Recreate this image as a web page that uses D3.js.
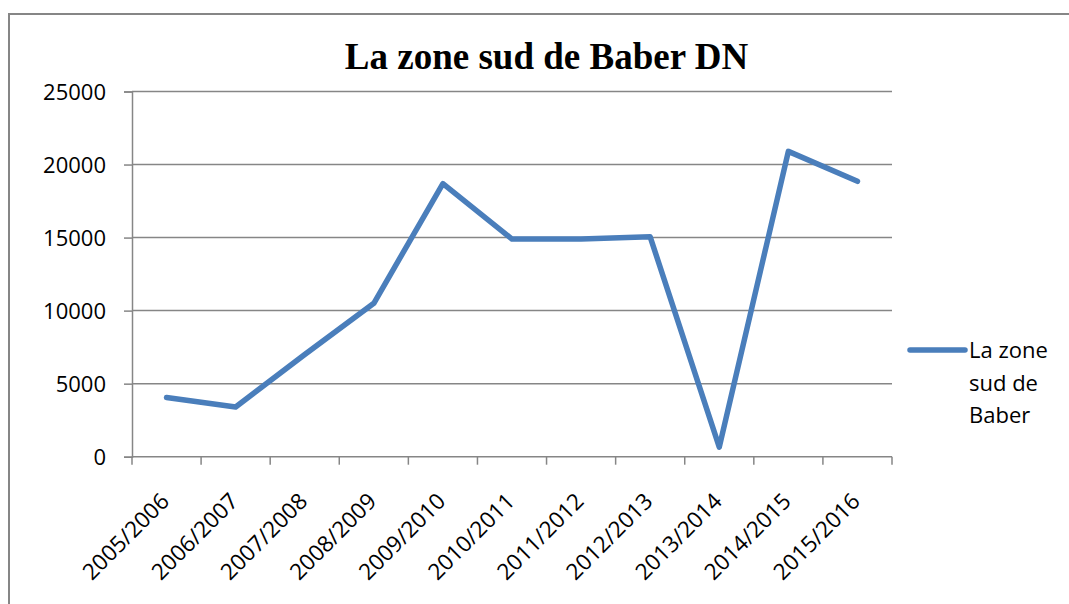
<!DOCTYPE html>
<html>
<head>
<meta charset="utf-8">
<script src="https://cdn.jsdelivr.net/npm/d3@7"></script>
<style>
  body { margin: 0; background: #fff; }
  svg { display: block; }
</style>
</head>
<body>
<svg id="chart" width="1069" height="604"></svg>
<script>
// data
var seasons = ["2005/2006", "2006/2007", "2007/2008", "2008/2009", "2009/2010", "2010/2011",
               "2011/2012", "2012/2013", "2013/2014", "2014/2015", "2015/2016"];
var values = [4050, 3400, 7000, 10500, 18700, 14900, 14900, 15050, 650, 20900, 18850];
var yTicks = [0, 5000, 10000, 15000, 20000, 25000];
var seriesName = "La zone sud de Baber";
var legendLines = ["La zone", "sud de", "Baber"];
var chartTitle = "La zone sud de Baber DN";

var GRID_COLOR = "#868686";
var LINE_COLOR = "#4a7ebb";
var LABEL_FONT = "'Open Sans', sans-serif";

var svg = d3.select("#chart");

// outer frame, runs off the right and bottom of the picture
svg.append("rect")
    .attr("x", 9).attr("y", 14)
    .attr("width", 1200).attr("height", 800)
    .attr("fill", "none")
    .attr("stroke", GRID_COLOR)
    .attr("stroke-width", 2);

var plot = { left: 132, right: 892, top: 91.5, bottom: 456.7 };

var x = d3.scaleBand()
    .domain(seasons)
    .range([plot.left, plot.right]);

var y = d3.scaleLinear()
    .domain([0, 25000])
    .range([plot.bottom, plot.top]);

// horizontal gridlines
svg.append("g")
    .selectAll("line")
    .data(yTicks.slice(1))
    .enter().append("line")
    .attr("x1", plot.left).attr("x2", plot.right)
    .attr("y1", function(d) { return y(d); })
    .attr("y2", function(d) { return y(d); })
    .attr("stroke", GRID_COLOR)
    .attr("stroke-width", 1.5);

// y axis
var yAxis = svg.append("g")
    .attr("transform", "translate(" + plot.left + ",0)")
    .call(d3.axisLeft(y).tickValues(yTicks).tickSize(8).tickPadding(18).tickFormat(d3.format("d")));
yAxis.select(".domain").attr("stroke", GRID_COLOR).attr("stroke-width", 1.5);
yAxis.selectAll(".tick line").attr("stroke", GRID_COLOR).attr("stroke-width", 1.5);
yAxis.selectAll("text")
    .attr("font-family", LABEL_FONT)
    .attr("font-size", 22)
    .attr("fill", "#000")
    .attr("dy", "0.36em");

// x axis, ticks between categories
var xAxis = svg.append("g")
    .attr("transform", "translate(0," + plot.bottom + ")");
xAxis.append("line")
    .attr("x1", plot.left).attr("x2", plot.right)
    .attr("stroke", GRID_COLOR).attr("stroke-width", 1.5);
var edges = seasons.map(function(s) { return x(s); }).concat([plot.right]);
xAxis.selectAll("line.tick")
    .data(edges)
    .enter().append("line")
    .attr("class", "tick")
    .attr("x1", function(d) { return d; })
    .attr("x2", function(d) { return d; })
    .attr("y1", 0).attr("y2", 8)
    .attr("stroke", GRID_COLOR).attr("stroke-width", 1.5);
xAxis.selectAll("text")
    .data(seasons)
    .enter().append("text")
    .attr("transform", function(d) {
        return "translate(" + (x(d) + x.bandwidth() / 2 + 4) + ",46) rotate(-45)";
    })
    .attr("text-anchor", "end")
    .attr("font-family", LABEL_FONT)
    .attr("font-size", 22.5)
    .attr("fill", "#000")
    .text(function(d) { return d; });

// the series
var line = d3.line()
    .x(function(d, i) { return x(seasons[i]) + x.bandwidth() / 2; })
    .y(function(d) { return y(d); });

svg.append("path")
    .datum(values)
    .attr("d", line)
    .attr("fill", "none")
    .attr("stroke", LINE_COLOR)
    .attr("stroke-width", 5.5)
    .attr("stroke-linejoin", "round")
    .attr("stroke-linecap", "round");

// title
svg.append("text")
    .attr("x", 546.5).attr("y", 69)
    .attr("text-anchor", "middle")
    .attr("font-family", "'Liberation Serif', 'Times New Roman', serif")
    .attr("font-weight", "bold")
    .attr("font-size", 37)
    .attr("fill", "#000")
    .text(chartTitle);

// legend
var legend = svg.append("g").attr("transform", "translate(910,350)");
legend.append("line")
    .attr("x1", 0).attr("x2", 55)
    .attr("stroke", LINE_COLOR)
    .attr("stroke-width", 5.5)
    .attr("stroke-linecap", "round");
legend.append("text")
    .attr("font-family", LABEL_FONT)
    .attr("font-size", 22)
    .attr("fill", "#000")
    .attr("aria-label", seriesName)
    .selectAll("tspan")
    .data(legendLines)
    .enter().append("tspan")
    .attr("x", 59)
    .attr("y", function(d, i) { return 8 + i * 32.5; })
    .text(function(d) { return d; });
</script>
</body>
</html>
